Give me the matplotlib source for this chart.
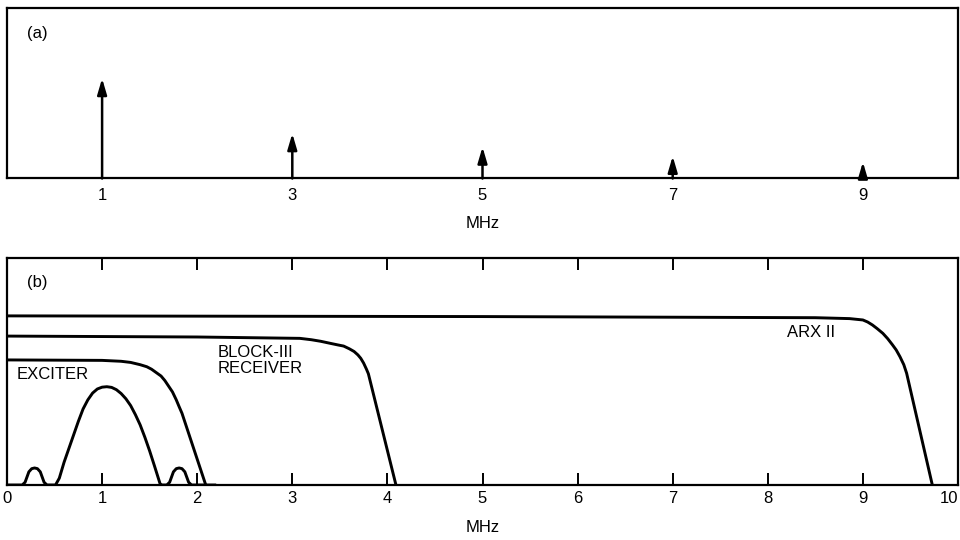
import matplotlib
matplotlib.use("Agg")
import matplotlib.pyplot as plt

plt.rcParams['font.family'] = ['Liberation Sans', 'DejaVu Sans']

# ---------------- data ----------------
# (a) harmonic lines
harm_freq = [1, 3, 5, 7, 9]
harm_amp = [0.587, 0.264, 0.185, 0.131, 0.097]

# (b) frequency responses
arx_x = [0, 5.0, 8.5, 8.86, 9.0, 9.05, 9.1, 9.15, 9.21, 9.26, 9.31, 9.35, 9.39,
         9.43, 9.46, 9.73]
arx_y = [0.745, 0.742, 0.737, 0.733, 0.727, 0.718, 0.705, 0.689, 0.668, 0.645,
         0.618, 0.595, 0.565, 0.53, 0.492, 0.0]

blk_x = [0, 2.0, 3.08, 3.2, 3.3, 3.4, 3.48, 3.54, 3.6, 3.65, 3.69, 3.72, 3.75,
         3.78, 3.80, 4.09]
blk_y = [0.656, 0.652, 0.646, 0.640, 0.633, 0.624, 0.617, 0.612, 0.600, 0.588,
         0.573, 0.558, 0.537, 0.510, 0.49, 0.0]

exc_x = [0, 1.0, 1.2, 1.3, 1.4, 1.47, 1.52, 1.57, 1.62, 1.66, 1.70, 1.74, 1.78,
         1.81, 1.84, 2.09]
exc_y = [0.551, 0.549, 0.545, 0.540, 0.530, 0.521, 0.510, 0.495, 0.480, 0.460,
         0.435, 0.410, 0.375, 0.345, 0.316, 0.0]

spec_x = [0, 0.16, 0.19, 0.21, 0.23, 0.26, 0.29, 0.32, 0.35, 0.37, 0.39, 0.42,
          0.51, 0.55, 0.60, 0.65, 0.70, 0.75, 0.80, 0.85, 0.90, 0.95, 1.00, 1.05,
          1.10, 1.15, 1.20, 1.25, 1.30, 1.35, 1.40, 1.45, 1.50, 1.55, 1.58, 1.61,
          1.63, 1.68, 1.71, 1.73, 1.75, 1.78, 1.81, 1.84, 1.87, 1.89, 1.91, 1.94,
          2.2]
spec_y = [0, 0, 0.012, 0.035, 0.058, 0.072, 0.075, 0.072, 0.058, 0.035, 0.012, 0,
          0, 0.03, 0.10, 0.16, 0.22, 0.28, 0.335, 0.375, 0.405, 0.423, 0.431, 0.433,
          0.430, 0.420, 0.403, 0.38, 0.35, 0.31, 0.265, 0.21, 0.15, 0.085, 0.045,
          0.005, 0, 0, 0.012, 0.035, 0.058, 0.072, 0.075, 0.072, 0.058, 0.035,
          0.012, 0, 0]

xticks_a = [1, 3, 5, 7, 9]
xticks_b = list(range(0, 11))

# ---------------- figure ----------------
W, H = 960, 540
fig = plt.figure(figsize=(9.6, 5.4), dpi=100)
ax_a = fig.add_axes([7 / W, 1 - 178.5 / H, 951 / W, 170.5 / H])
ax_b = fig.add_axes([7 / W, 1 - 485 / H, 951 / W, 227 / H])

spine_lw = 1.6
curve_lw = 2.1
fs = 12

for ax in (ax_a, ax_b):
    ax.set_xlim(0, 10)
    ax.set_ylim(0, 1)
    ax.set_yticks([])
    for s in ax.spines.values():
        s.set_linewidth(spine_lw)

# (a)
ax_a.set_xticks(xticks_a)
ax_a.set_xticklabels([str(v) for v in xticks_a], fontsize=fs)
ax_a.tick_params(axis='x', length=0, pad=6.5)
for f, a in zip(harm_freq, harm_amp):
    ax_a.annotate('', xy=(f, a), xytext=(f, 0),
                  arrowprops=dict(arrowstyle='-|>,head_length=0.95,head_width=0.28',
                                  lw=1.8, color='black', shrinkA=0, shrinkB=0))
ax_a.text(0.021, 0.853, '(a)', transform=ax_a.transAxes, fontsize=fs,
          ha='left', va='center')
ax_a.text(0.5, -0.261, 'MHz', transform=ax_a.transAxes, fontsize=fs,
          ha='center', va='center')

# (b)
ax_b.set_xticks(xticks_b)
ax_b.set_xticklabels([str(v) for v in xticks_b], fontsize=fs)
ax_b.tick_params(axis='x', direction='in', length=8.5, width=1.4, top=True,
                 labeltop=False, pad=4)
ax_b.get_xticklabels()[-1].set_horizontalalignment('right')
for xs, ys in ((arx_x, arx_y), (blk_x, blk_y), (exc_x, exc_y), (spec_x, spec_y)):
    ax_b.plot(xs, ys, color='black', lw=curve_lw, solid_capstyle='butt',
              solid_joinstyle='round')

ax_b.text(0.021, 0.894, '(b)', transform=ax_b.transAxes, fontsize=fs,
          ha='left', va='center')
ax_b.text(2.22, 0.548, 'BLOCK-III\nRECEIVER', fontsize=fs, ha='left', va='center',
          linespacing=1.05)
ax_b.text(0.105, 0.485, 'EXCITER', fontsize=fs, ha='left', va='center')
ax_b.text(8.2, 0.674, 'ARX II', fontsize=fs, ha='left', va='center')
ax_b.text(0.5, -0.189, 'MHz', transform=ax_b.transAxes, fontsize=fs,
          ha='center', va='center')

fig.savefig('out.png', dpi=100)
